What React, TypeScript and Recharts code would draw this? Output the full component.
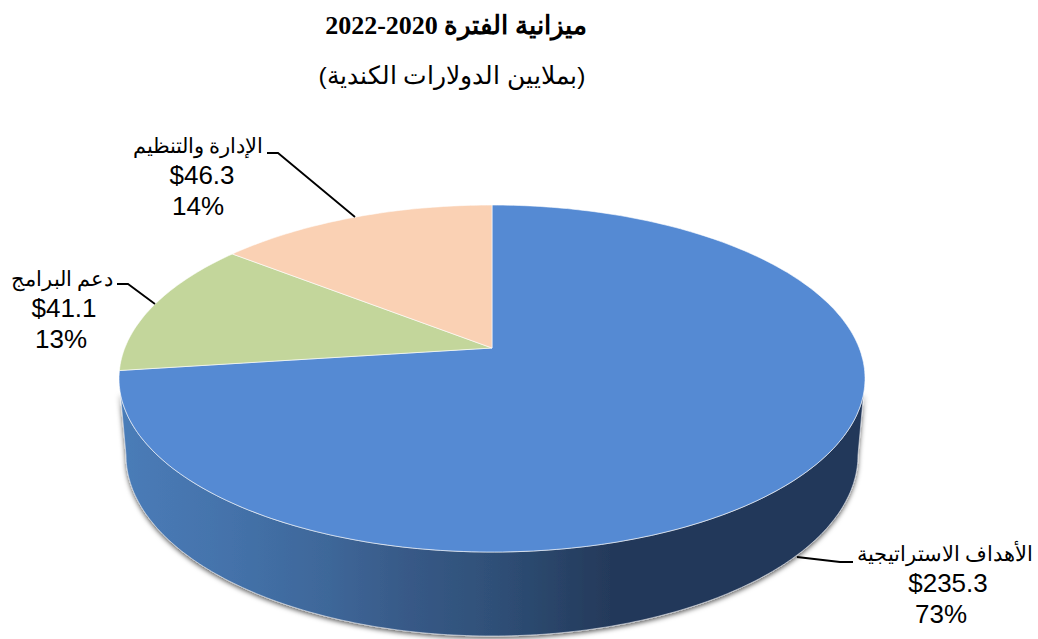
import { PieChart, Pie, Cell } from 'recharts'

const labels = ['الأهداف الاستراتيجية', 'دعم البرامج', 'الإدارة والتنظيم']
const amounts = [235.3, 41.1, 46.3]
const colors = ['#558ad3', '#c3d69b', '#fad1b4']
const chartTitle = 'ميزانية الفترة 2020-2022'
const chartSubtitle = '(بملايين الدولارات الكندية)'

const data = labels.map((name, i) => ({ name, value: amounts[i] }))

// label block position + leader line, by slice
const labelBoxes = [
  { x: 945, y: 553, numX: 948, pctX: 941, line: '853,562 840,562 797,557' },
  { x: 62, y: 278, numX: 64, pctX: 61, line: '117,284 128,284 155,304' },
  { x: 198, y: 145, numX: 202, pctX: 198, line: '267,153 278,153 355,217' },
]

const FONT = '"Liberation Sans", Arial, sans-serif'
const FRONT = -90
const RY = 173.5
const TILT = 0.176 // how far the apex sits behind the ellipse centre
const WALL_RX = 366
const WALL_RY = 181

// pie angle -> point on the tilted disc
function project(cx: number, cy: number, r: number, deg: number) {
  const a = (deg * Math.PI) / 180
  const u = Math.cos(a)
  const v = Math.sin(a)
  const d = 1 + TILT * v
  const x = (u * Math.sqrt(1 - TILT * TILT)) / d
  const y = (v + TILT) / d
  return [cx + x * r, cy + TILT * RY - y * RY]
}

function ellipsePts(cx: number, cy: number, rx: number, ry: number, from: number, to: number) {
  const pts: string[] = []
  const n = Math.ceil(Math.abs(to - from))
  for (let i = 0; i <= n; i++) {
    const t = ((from + ((to - from) * i) / n) * Math.PI) / 180
    pts.push(`${(cx + rx * Math.cos(t)).toFixed(1)} ${(cy + ry * Math.sin(t)).toFixed(1)}`)
  }
  return pts
}

function Wedge(props: any) {
  const { cx, cy, outerRadius, startAngle, endAngle, fill } = props
  const n = Math.max(2, Math.ceil(Math.abs(endAngle - startAngle)))
  const arc: string[] = []
  for (let i = 0; i <= n; i++) {
    const [x, y] = project(cx, cy, outerRadius, startAngle + ((endAngle - startAngle) * i) / n)
    arc.push(`${x.toFixed(1)} ${y.toFixed(1)}`)
  }
  const hasWall = startAngle >= FRONT && endAngle <= FRONT
  const ecy = cy + TILT * RY
  const topEdge = ellipsePts(cx, ecy, outerRadius, RY, 175, 5)
  const botEdge = ellipsePts(cx, ecy + 76.5, WALL_RX, WALL_RY, 0, 180)
  return (
    <g>
      {hasWall && (
        <g>
          <defs>
            <linearGradient id="wallGrad" gradientUnits="userSpaceOnUse" x1={cx - outerRadius} x2={cx + outerRadius} y1={0} y2={0}>
              <stop offset="0" stopColor="#4a7cb8" />
              <stop offset="0.15" stopColor="#4472aa" />
              <stop offset="0.28" stopColor="#3e6799" />
              <stop offset="0.38" stopColor="#385a88" />
              <stop offset="0.5" stopColor="#2f5078" />
              <stop offset="0.66" stopColor="#24395a" />
              <stop offset="1" stopColor="#24395a" />
            </linearGradient>
            <filter id="wallShadow" filterUnits="userSpaceOnUse" x={0} y={300} width={1038} height={400}>
              <feDropShadow dx={0} dy={2} stdDeviation={2.5} floodColor="#000" floodOpacity={0.65} />
            </filter>
          </defs>
          <path
            d={`M${topEdge.join(' L')} L${botEdge.join(' L')} Z`}
            fill="url(#wallGrad)"
            stroke="#e4e8ee"
            strokeWidth={0.6}
            filter="url(#wallShadow)"
          />
        </g>
      )}
      <path
        d={`M${cx} ${cy} L${arc.join(' L')} Z`}
        fill={fill}
        stroke="#ffffff"
        strokeOpacity={0.6}
        strokeWidth={1}
        strokeLinejoin="round"
      />
    </g>
  )
}

function SliceLabel(props: any) {
  const { index, name, value, percent } = props
  const box = labelBoxes[index]
  return (
    <g fill="#000" style={{ fontFamily: FONT }}>
      <polyline points={box.line} fill="none" stroke="#000" strokeWidth={1.8} />
      <text x={box.x} y={box.y + 8} textAnchor="middle" direction="rtl" fontSize={21}>{name}</text>
      <text x={box.numX} y={box.y + 39} textAnchor="middle" fontSize={26}>${value}</text>
      <text x={box.pctX} y={box.y + 70} textAnchor="middle" fontSize={26}>{Math.round(percent * 100)}%</text>
    </g>
  )
}

export default function App() {
  return (
    <div style={{ position: 'absolute', left: 0, top: 0, width: 1038, height: 639, overflow: 'hidden', background: '#fff' }}>
      <PieChart width={1038} height={639} margin={{ top: 0, right: 0, bottom: 0, left: 0 }}>
        <text x={456} y={34} textAnchor="middle" direction="rtl" fontFamily='"Liberation Serif", serif' fontWeight="bold" fontSize={26}>{chartTitle}</text>
        <text x={452} y={84} textAnchor="middle" direction="rtl" fontFamily={FONT} fontSize={24.5}>{chartSubtitle}</text>
        <Pie
          data={data}
          dataKey="value"
          nameKey="name"
          cx={492}
          cy={348}
          innerRadius={0}
          outerRadius={373}
          startAngle={90}
          endAngle={-270}
          stroke="none"
          shape={Wedge}
          inactiveShape={Wedge}
          label={SliceLabel}
          labelLine={false}
          isAnimationActive={false}
        >
          {data.map((d, i) => (
            <Cell key={d.name} fill={colors[i]} />
          ))}
        </Pie>
      </PieChart>
    </div>
  )
}
